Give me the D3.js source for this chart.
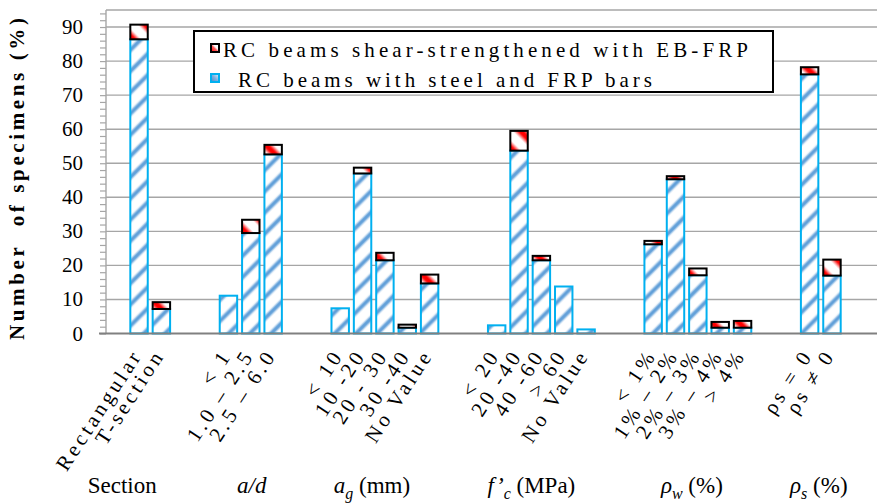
<!DOCTYPE html>
<html>
<head>
<meta charset="utf-8">
<script src="https://cdn.jsdelivr.net/npm/d3@7"></script>
<style>
  body { margin: 0; background: #fff; }
</style>
</head>
<body>
<svg id="chart" width="877" height="503"></svg>
<script>
// Category labels, grouped by parameter
const categories = [
  "Rectangular", "T-section",
  "< 1", "1.0 – 2.5", "2.5 – 6.0",
  "< 10", "10 -20", "20 - 30", "30 -40", "No Value",
  "< 20", "20 -40", "40 -60", "> 60", "No Value",
  "< 1%", "1% – 2%", "2% – 3%", "3% – 4%", "> 4%",
  "ρs = 0", "ρs ≠ 0"
];
const groupSizes = [2, 3, 5, 5, 5, 2];

// Share of specimens (%), stacked: steel/FRP-bar beams below, EB-FRP beams on top
const steelFrpBars = [
  86.4, 7.2,
  11.1, 29.5, 52.6,
  7.4, 47.0, 21.5, 1.7, 14.7,
  2.4, 53.7, 21.5, 13.8, 1.2,
  26.2, 45.3, 17.1, 1.7, 1.7,
  76.1, 17.0
];
const ebFrpStrengthened = [
  4.3, 2.0,
  0, 3.9, 2.8,
  0, 1.7, 2.2, 0.9, 2.6,
  0, 5.8, 1.3, 0, 0,
  1.0, 0.9, 2.0, 1.7, 2.0,
  2.1, 4.7
];

const yTicks = [0, 10, 20, 30, 40, 50, 60, 70, 80, 90];
const legendLabels = ["RC beams shear-strengthened with EB-FRP", "RC beams with steel and FRP bars"];

const FONT = "Liberation Serif";
const svg = d3.select("#chart");
const defs = svg.append("defs");

// ---- fills -------------------------------------------------------------
function stripeGradient(id, color, stops) {
  const g = defs.append("linearGradient").attr("id", id)
    .attr("x1", 0).attr("x2", 1).attr("y1", 0).attr("y2", 0);
  stops.forEach(([o, solid]) => g.append("stop").attr("offset", o).attr("stop-color", solid ? color : "#fff"));
}
stripeGradient("blueStripe", "#5f9ed8", [[0, 0], [0.28, 0], [0.45, 1], [0.55, 1], [0.72, 0], [1, 0]]);
stripeGradient("redStripe", "#ff0000", [[0, 0], [0.2, 0], [0.42, 1], [0.58, 1], [0.8, 0], [1, 0]]);

function hatch(id, size, angle, grad) {
  const p = defs.append("pattern").attr("id", id)
    .attr("patternUnits", "userSpaceOnUse")
    .attr("width", size).attr("height", size)
    .attr("patternTransform", `rotate(${angle})`);
  p.append("rect").attr("width", size).attr("height", size).attr("fill", `url(#${grad})`);
}
hatch("blueHatch", 15, 45, "blueStripe");
hatch("redHatch", 19, -45, "redStripe");

const lgRed = defs.append("linearGradient").attr("id", "legendRed")
  .attr("x1", 0).attr("y1", 1).attr("x2", 1).attr("y2", 0);
lgRed.append("stop").attr("offset", 0).attr("stop-color", "#ff0000");
lgRed.append("stop").attr("offset", 0.45).attr("stop-color", "#ff6060");
lgRed.append("stop").attr("offset", 0.6).attr("stop-color", "#fff");
lgRed.append("stop").attr("offset", 1).attr("stop-color", "#fff");
const lgBlue = defs.append("linearGradient").attr("id", "legendBlue")
  .attr("x1", 0).attr("y1", 1).attr("x2", 1).attr("y2", 0);
lgBlue.append("stop").attr("offset", 0).attr("stop-color", "#4a86c8");
lgBlue.append("stop").attr("offset", 0.5).attr("stop-color", "#7fb0e0");
lgBlue.append("stop").attr("offset", 1).attr("stop-color", "#e8f2fc");

// ---- slots: one band per category, two empty bands between groups -------
const slots = [{ key: "pad-start", cat: null }];
let ci = 0;
groupSizes.forEach((n, g) => {
  if (g > 0) slots.push({ key: `gap${g}a`, cat: null }, { key: `gap${g}b`, cat: null });
  for (let k = 0; k < n; k++, ci++) slots.push({ key: `c${ci}`, cat: ci, group: g });
});
slots.push({ key: "pad-end", cat: null });

const plot = { left: 106, right: 877, top: 10, bottom: 333.5 };

const x = d3.scaleBand()
  .domain(slots.map(s => s.key))
  .range([105.5, 865.5])
  .paddingInner(0.22)
  .paddingOuter(0.11);

const y = d3.scaleLinear().domain([0, 95]).range([plot.bottom, plot.top]);

// ---- grid and axes -----------------------------------------------------
const grid = svg.append("g");
grid.selectAll("line.grid").data(yTicks.filter(v => v > 0)).join("line")
  .attr("x1", plot.left).attr("x2", plot.right)
  .attr("y1", d => y(d)).attr("y2", d => y(d))
  .attr("stroke", "#a6a6a6").attr("stroke-width", 1.4);
grid.append("line")
  .attr("x1", plot.left).attr("x2", plot.right)
  .attr("y1", plot.top).attr("y2", plot.top)
  .attr("stroke", "#a6a6a6").attr("stroke-width", 1.4);

const yAxis = d3.axisLeft(y)
  .tickValues(d3.range(0, 95, 2))
  .tickSize(6)
  .tickFormat("");
const yAxisG = svg.append("g").attr("transform", `translate(${plot.left},0)`).call(yAxis);
yAxisG.select(".domain").attr("stroke", "#a6a6a6").attr("stroke-width", 1.4)
  .attr("d", `M0,${plot.top}V${plot.bottom}`);
yAxisG.selectAll(".tick line").attr("stroke", "#a6a6a6").attr("stroke-width", 1.2);

svg.append("g").selectAll("text").data(yTicks).join("text")
  .attr("x", 83).attr("y", d => y(d) + 7)
  .attr("text-anchor", "end")
  .style("font-family", FONT).style("font-size", "21px")
  .text(d => d);

svg.append("text")
  .attr("transform", `translate(24,179) rotate(-90)`)
  .attr("text-anchor", "middle")
  .attr("textLength", 322).attr("lengthAdjust", "spacing")
  .style("font-family", FONT).style("font-size", "21px").style("font-weight", "bold").style("white-space", "pre")
  .text("Number  of specimens (%)");

// ---- bars --------------------------------------------------------------
const catSlots = slots.filter(s => s.cat !== null);
const bars = svg.append("g");

bars.selectAll("rect.steel").data(catSlots).join("rect")
  .attr("class", "steel")
  .attr("x", d => x(d.key)).attr("width", x.bandwidth())
  .attr("y", d => y(steelFrpBars[d.cat]))
  .attr("height", d => y(0) - y(steelFrpBars[d.cat]))
  .attr("fill", "url(#blueHatch)")
  .attr("stroke", "#00b0f0").attr("stroke-width", 2);

bars.selectAll("rect.eb").data(catSlots.filter(d => ebFrpStrengthened[d.cat] > 0)).join("rect")
  .attr("class", "eb")
  .attr("x", d => x(d.key)).attr("width", x.bandwidth())
  .attr("y", d => y(steelFrpBars[d.cat] + ebFrpStrengthened[d.cat]))
  .attr("height", d => y(steelFrpBars[d.cat]) - y(steelFrpBars[d.cat] + ebFrpStrengthened[d.cat]))
  .attr("fill", "url(#redHatch)")
  .attr("stroke", "#000").attr("stroke-width", 2);

// baseline
svg.append("line")
  .attr("x1", 99).attr("x2", plot.right)
  .attr("y1", y(0)).attr("y2", y(0))
  .attr("stroke", "#808080").attr("stroke-width", 2);

// ---- category labels (steep, letter-spaced) ----------------------------
svg.append("g").selectAll("text").data(catSlots).join("text")
  .attr("transform", d => `translate(${x(d.key) + x.bandwidth() / 2 + 4},355) rotate(-57)`)
  .attr("text-anchor", "end")
  .style("font-family", FONT).style("font-size", "21px").style("letter-spacing", "3.5px").style("white-space", "pre")
  .text(d => categories[d.cat]);

// ---- group titles ------------------------------------------------------
const groupCenters = groupSizes.map((n, g) => {
  const s = catSlots.filter(d => d.group === g);
  return (x(s[0].key) + x(s[s.length - 1].key) + x.bandwidth()) / 2;
});
const titleShift = [-28, 1, -13, -10, -6, -2];
const titles = [
  [{ t: "Section" }],
  [{ t: "a/d", i: true }],
  [{ t: "a", i: true }, { t: "g", i: true, sub: true }, { t: " (mm)" }],
  [{ t: "f’", i: true }, { t: "c", i: true, sub: true }, { t: " (MPa)" }],
  [{ t: "ρ", i: true }, { t: "w", i: true, sub: true }, { t: " (%)" }],
  [{ t: "ρ", i: true }, { t: "s", i: true, sub: true }, { t: " (%)" }]
];
titles.forEach((parts, g) => {
  const tx = svg.append("text")
    .attr("x", groupCenters[g] + titleShift[g]).attr("y", 493)
    .attr("text-anchor", "middle")
    .style("font-family", FONT).style("font-size", "23px").style("white-space", "pre");
  let lowered = false;
  parts.forEach(p => {
    const ts = tx.append("tspan").text(p.t);
    if (p.i) ts.style("font-style", "italic");
    if (p.sub) { ts.attr("dy", 6).style("font-size", "16px"); lowered = true; }
    else if (lowered) { ts.attr("dy", -6); lowered = false; }
  });
});

// ---- legend ------------------------------------------------------------
const lg = svg.append("g");
lg.append("rect").attr("x", 194).attr("y", 31).attr("width", 579).attr("height", 61)
  .attr("fill", "#fff").attr("stroke", "#000").attr("stroke-width", 2);
lg.append("rect").attr("x", 211).attr("y", 44).attr("width", 8).attr("height", 8)
  .attr("fill", "url(#legendRed)").attr("stroke", "#000").attr("stroke-width", 2);
lg.append("rect").attr("x", 211).attr("y", 74).attr("width", 8).attr("height", 8)
  .attr("fill", "url(#legendBlue)").attr("stroke", "#00b0f0").attr("stroke-width", 2);
lg.append("text").attr("x", 223).attr("y", 57)
  .attr("textLength", 525).attr("lengthAdjust", "spacing")
  .style("font-family", FONT).style("font-size", "21px").text(legendLabels[0]);
lg.append("text").attr("x", 238).attr("y", 87)
  .attr("textLength", 414).attr("lengthAdjust", "spacing")
  .style("font-family", FONT).style("font-size", "21px").text(legendLabels[1]);
</script>
</body>
</html>
